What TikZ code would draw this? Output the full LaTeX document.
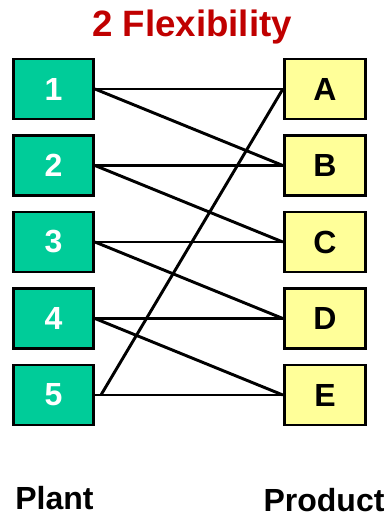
\documentclass[tikz,border=0pt]{standalone}
\usepackage{fontspec}
\setmainfont{Liberation Sans}
\definecolor{plantgreen}{HTML}{00CC99}
\definecolor{prodyellow}{HTML}{FFFF99}
\definecolor{titlered}{HTML}{C00000}
\begin{document}
\begin{tikzpicture}[x=0.75pt,y=-0.75pt,
  plantbox/.style={draw=black,line width=2.2pt,fill=plantgreen,minimum width=60pt,minimum height=45pt,inner sep=0pt,text=white,font=\fontsize{24}{24}\selectfont\bfseries},
  prodbox/.style={draw=black,line width=2.2pt,fill=prodyellow,minimum width=61pt,minimum height=45pt,inner sep=0pt,text=black,font=\fontsize{24}{24}\selectfont\bfseries},
  link/.style={line width=2.2pt,black},
  lbl/.style={anchor=base,inner sep=0pt,font=\fontsize{24}{24}\selectfont\bfseries}]
\useasboundingbox (0,0) rectangle (390,522);
\node[anchor=base,inner sep=0pt,text=titlered,font=\fontsize{27.5}{27.5}\selectfont\bfseries] (title) at (192,36) {2 Flexibility};
\foreach \i/\y in {1/89,2/165.5,3/242,4/318.5,5/395}{
  \node[plantbox] (p\i) at (53.5,\y) {\i};
}
\foreach \n/\y in {A/89,B/165.5,C/242,D/318.5,E/395}{
  \node[prodbox] (q\n) at (325,\y) {\n};
}
\draw[link] (p1.east) -- (qA.west);
\draw[link] (p1.east) -- (qB.west);
\draw[link] (p2.east) -- (qB.west);
\draw[link] (p2.east) -- (qC.west);
\draw[link] (p3.east) -- (qC.west);
\draw[link] (p3.east) -- (qD.west);
\draw[link] (p4.east) -- (qD.west);
\draw[link] (p4.east) -- (qE.west);
\draw[link] (p5.east) -- (qE.west);
\coordinate (s5) at ([xshift=4.5pt]p5.east);
\draw[link] (s5) -- (qA.west);
\node[lbl] (plant) at (54.5,509) {Plant};
\node[lbl] (product) at (324,511) {Product};
\end{tikzpicture}
\end{document}
